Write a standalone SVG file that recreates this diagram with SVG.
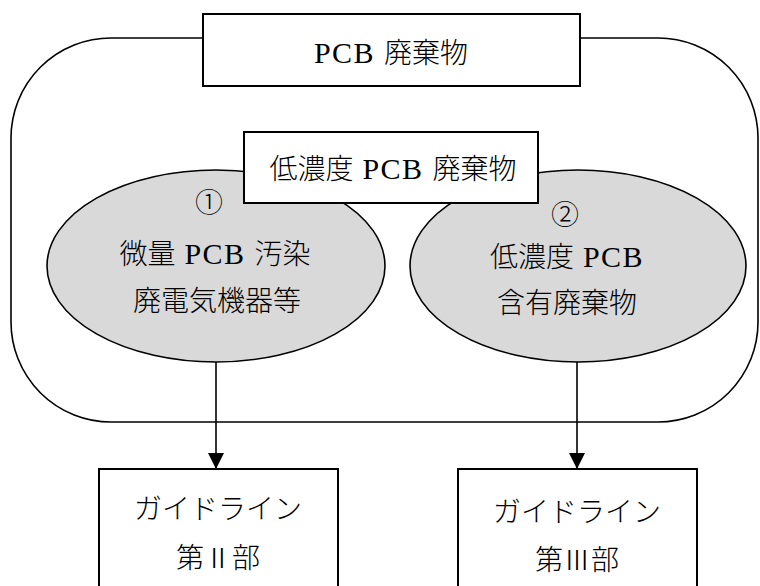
<svg xmlns="http://www.w3.org/2000/svg" width="760" height="586" viewBox="0 0 760 586">
<style>
  text { font-family: "Liberation Serif", "Noto Sans CJK JP", serif; font-size: 28px; fill: #000; text-anchor: middle; font-weight: 300; }
  .box { fill: #fff; stroke: #000; stroke-width: 2; }
  .ell { fill: #d9d9d9; stroke: #000; stroke-width: 1.6; }
  .outer { fill: none; stroke: #000; stroke-width: 1.6; }
  .conn { stroke: #000; stroke-width: 1.6; fill: none; }
  .lat { font-size: 30px; letter-spacing: 1.5px; }
</style>
<defs>
  <marker id="ah" markerWidth="16" markerHeight="16" refX="16" refY="8" orient="auto" markerUnits="userSpaceOnUse">
    <path d="M0,0 L16,8 L0,16 Z" fill="#000"/>
  </marker>
</defs>
<g id="pcb-waste-group">
  <rect class="outer" x="11" y="38" width="747" height="384" rx="100" ry="100"/>
</g>
<g id="pcb-waste">
  <rect class="box" x="203" y="14" width="377" height="72"/>
  <text x="391" y="63"><tspan class="lat">PCB </tspan>廃棄物</text>
</g>
<g id="trace-pcb">
  <ellipse class="ell" cx="216" cy="266" rx="169" ry="96"/>
  <text x="209" y="213">①</text>
  <text x="215" y="264">微量<tspan class="lat"> PCB </tspan>汚染</text>
  <text x="217" y="311">廃電気機器等</text>
</g>
<g id="low-conc-pcb">
  <ellipse class="ell" cx="578" cy="266" rx="168" ry="96"/>
  <text x="565" y="225">②</text>
  <text x="567" y="267">低濃度<tspan class="lat"> PCB</tspan></text>
  <text x="567" y="313">含有廃棄物</text>
</g>
<g id="low-conc-pcb-waste">
  <rect class="box" x="244" y="132" width="294" height="71"/>
  <text x="393" y="179">低濃度<tspan class="lat"> PCB </tspan>廃棄物</text>
</g>
<g id="guideline-2">
  <rect class="box" x="99" y="469" width="239" height="140"/>
  <text x="218" y="519">ガイドライン</text>
  <text x="218" y="568">第Ⅱ部</text>
</g>
<g id="guideline-3">
  <rect class="box" x="458" y="469" width="239" height="140"/>
  <text x="577" y="522">ガイドライン</text>
  <text x="577" y="570">第Ⅲ部</text>
</g>
<g id="connectors">
  <line class="conn" x1="216" y1="362" x2="216" y2="469" marker-end="url(#ah)"/>
  <line class="conn" x1="577" y1="362" x2="577" y2="469" marker-end="url(#ah)"/>
</g>
</svg>
